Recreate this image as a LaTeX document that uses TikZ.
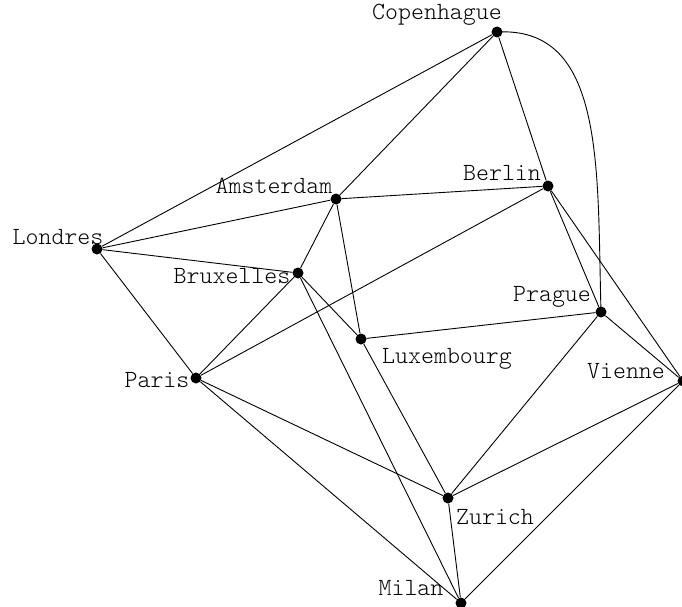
\documentclass[tikz,border=0pt]{standalone}
\begin{document}
\begin{tikzpicture}[x=1pt,y=-1pt,
  city/.style={circle,fill=black,inner sep=0pt,minimum size=11pt},
  lbl/.style={font=\ttfamily\fontseries{l}\fontsize{24.7}{28}\selectfont,inner sep=0pt,anchor=base},
  road/.style={line width=0.9pt}]
\useasboundingbox (0,0) rectangle (682,607);
\node[city] (cop) at (497,32) {};
\node[city] (ber) at (548,186) {};
\node[city] (ams) at (336,199) {};
\node[city] (lon) at (97,249) {};
\node[city] (bru) at (298,273) {};
\node[city] (pra) at (601,312) {};
\node[city] (lux) at (361,339) {};
\node[city] (par) at (196,378) {};
\node[city] (vie) at (683,381) {};
\node[city] (zur) at (448,498) {};
\node[city] (mil) at (461,603) {};
\node[lbl] (tcop) at (437,20) {Copenhague};
\node[lbl] (tber) at (502,180) {Berlin};
\node[lbl] (tams) at (274,193) {Amsterdam};
\node[lbl] (tlon) at (58,244) {Londres};
\node[lbl] (tbru) at (232,283) {Bruxelles};
\node[lbl] (tpra) at (552,301) {Prague};
\node[lbl] (tlux) at (447,363) {Luxembourg};
\node[lbl] (tpar) at (157,387) {Paris};
\node[lbl] (tvie) at (626,378) {Vienne};
\node[lbl] (tzur) at (495,524) {Zurich};
\node[lbl] (tmil) at (411,595) {Milan};
\begin{scope}[road]
\draw (cop) -- (lon);
\draw (cop) -- (ams);
\draw (cop) -- (ber);
\draw (cop.center) .. controls (606,26) and (597,170) .. (pra.center);
\draw (ams) -- (lon);
\draw (ams) -- (ber);
\draw (ams) -- (bru);
\draw (ams) -- (lux);
\draw (lon) -- (bru);
\draw (lon) -- (par);
\draw (ber) -- (par);
\draw (ber) -- (pra);
\draw (ber) -- (vie);
\draw (bru) -- (par);
\draw (bru) -- (lux);
\draw (bru) -- (mil);
\draw (lux) -- (pra);
\draw (lux) -- (zur);
\draw (par) -- (zur);
\draw (par) -- (mil);
\draw (pra) -- (zur);
\draw (pra) -- (vie);
\draw (vie) -- (zur);
\draw (vie) -- (mil);
\draw (zur) -- (mil);
\end{scope}
\end{tikzpicture}
\end{document}
